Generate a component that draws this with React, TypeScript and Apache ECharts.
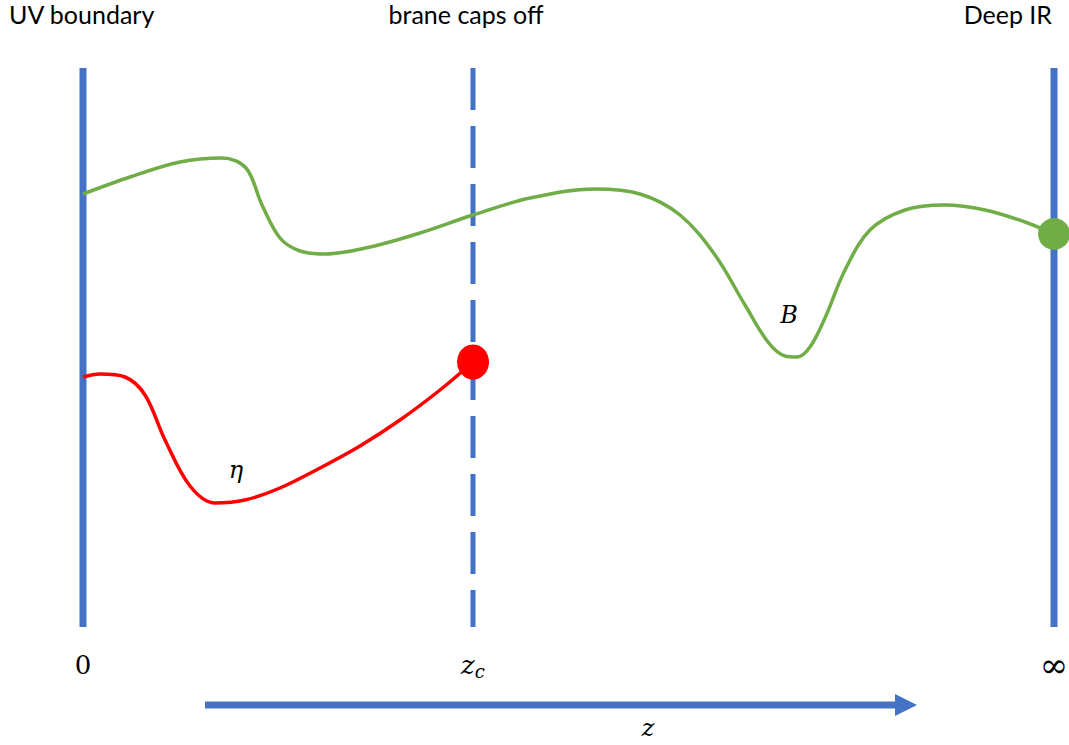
import React, { useEffect, useRef } from "react";
import * as echarts from "echarts";

const W = 1069;
const H = 745;

// boundary positions along z (x) and vertical extent
const boundaryX = [83, 473, 1054];
const boundaryTop = 68;
const boundaryBottom = 627;

// green curve B(z)
const greenX = [83, 130, 180, 222, 246, 262, 280, 300, 325, 370, 420, 473, 530, 595, 640, 680, 715, 745, 768, 785, 797, 810, 825, 845, 870, 905, 945, 985, 1025, 1054];
const greenY = [194, 177, 162, 158, 168, 205, 238, 251, 254, 247, 233, 215, 198, 189, 194, 215, 255, 305, 342, 356, 357, 347, 318, 270, 230, 210, 205, 210, 222, 234];

// red curve eta(z)
const redX = [83, 100, 125, 145, 165, 190, 215, 245, 280, 320, 360, 400, 440, 473];
const redY = [377, 374, 377, 395, 440, 486, 503, 500, 488, 468, 446, 420, 390, 362];

// axis arrow
const arrowX = [205, 905];
const arrowY = 705;

const tickLabels = ["{n|0}", "{i|z}{s|c}", "{inf|∞}"];
const tickY = 665;

export default function App() {
  const ref = useRef<HTMLDivElement>(null);
  useEffect(() => {
    document.body.style.margin = "0";
    const chart = echarts.init(ref.current!, null, { renderer: "svg" });
    const blue = "#4472C4";
    const green = "#70AD47";
    const red = "#FF0000";
    const mathFont = "'DejaVu Serif', 'Liberation Serif', serif";
    const textFont = "Lato, 'Open Sans', sans-serif";
    chart.setOption({
      animation: false,
      grid: { left: 0, right: 0, top: 0, bottom: 0 },
      xAxis: { type: "value", min: 0, max: W, show: false },
      yAxis: { type: "value", min: 0, max: H, inverse: true, show: false },
      series: [
        {
          type: "line",
          data: [[boundaryX[0], boundaryTop], [boundaryX[0], boundaryBottom]],
          symbol: "none",
          lineStyle: { color: blue, width: 7 },
          z: 1,
        },
        {
          type: "line",
          data: [[boundaryX[1], boundaryTop], [boundaryX[1], boundaryBottom]],
          symbol: "none",
          lineStyle: { color: blue, width: 5, type: [42, 16] },
          z: 1,
        },
        {
          type: "line",
          data: [[boundaryX[2], boundaryTop], [boundaryX[2], boundaryBottom]],
          symbol: "none",
          lineStyle: { color: blue, width: 7 },
          z: 1,
        },
        {
          type: "line",
          data: greenX.map((x, i) => [x, greenY[i]]),
          smooth: 0.35,
          symbol: "none",
          lineStyle: { color: green, width: 3.5 },
          z: 2,
        },
        {
          type: "line",
          data: redX.map((x, i) => [x, redY[i]]),
          smooth: 0.35,
          symbol: "none",
          lineStyle: { color: red, width: 3.5 },
          z: 2,
        },
        {
          type: "scatter",
          data: [[greenX[greenX.length - 1], greenY[greenY.length - 1]]],
          symbolSize: 32,
          itemStyle: { color: green, opacity: 1 },
          z: 3,
        },
        {
          type: "scatter",
          data: [[redX[redX.length - 1], redY[redY.length - 1]]],
          symbolSize: [32, 35],
          itemStyle: { color: red, opacity: 1 },
          z: 3,
        },
        {
          type: "line",
          data: [[arrowX[0], arrowY], [arrowX[1], arrowY]],
          symbol: "none",
          lineStyle: { color: blue, width: 7 },
          z: 1,
        },
        {
          type: "scatter",
          data: [[arrowX[1] + 1, arrowY]],
          symbol: "triangle",
          symbolRotate: -90,
          symbolSize: [22, 22],
          itemStyle: { color: blue, opacity: 1 },
          z: 2,
        },
        {
          type: "scatter",
          symbolSize: 2,
          itemStyle: { color: "rgba(255,255,255,0)", opacity: 1 },
          label: {
            show: true,
            position: "inside",
            formatter: (p: any) => tickLabels[p.dataIndex],
            color: "#000",
            fontSize: 26,
            fontFamily: mathFont,
            rich: {
              n: { fontFamily: mathFont, fontSize: 26, color: "#000" },
              inf: { fontFamily: mathFont, fontSize: 34, color: "#000" },
              i: { fontFamily: mathFont, fontStyle: "italic", fontSize: 26, color: "#000" },
              s: { fontFamily: mathFont, fontStyle: "italic", fontSize: 18, color: "#000", verticalAlign: "bottom", padding: [12, 0, 0, 0] },
            },
          },
          data: boundaryX.map((x) => [x, tickY]),
          z: 4,
        },
      ],
      graphic: [
        { type: "text", x: 9, y: 1, style: { text: "UV boundary", font: `25px ${textFont}`, fill: "#000" } },
        { type: "text", x: 466, y: 1, style: { text: "brane caps off", font: `25px ${textFont}`, fill: "#000", textAlign: "center" } },
        { type: "text", x: 1052, y: 1, style: { text: "Deep IR", font: `25px ${textFont}`, fill: "#000", textAlign: "right" } },
        { type: "text", x: 648, y: 728, style: { text: "z", font: `italic 24px ${mathFont}`, fill: "#000", textAlign: "center", textVerticalAlign: "middle" } },
        { type: "text", x: 236, y: 470, style: { text: "η", font: `italic 24px ${mathFont}`, fill: "#000", textAlign: "center", textVerticalAlign: "middle" } },
        { type: "text", x: 789, y: 315, style: { text: "B", font: `italic 24px ${mathFont}`, fill: "#000", textAlign: "center", textVerticalAlign: "middle" } },
      ],
    });
    return () => chart.dispose();
  }, []);
  return <div ref={ref} style={{ width: W, height: H }} />;
}
